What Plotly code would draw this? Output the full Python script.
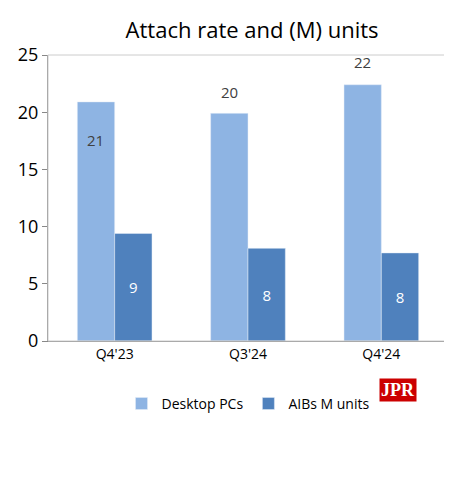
import plotly.graph_objects as go

categories = ["Q4'23", "Q3'24", "Q4'24"]
desktop = [20.9, 19.9, 22.4]
aibs = [9.4, 8.1, 7.7]
desktop_labels = ["21", "20", "22"]
aib_labels = ["9", "8", "8"]
desktop_label_y = [17.6, 21.8, 24.4]

fig = go.Figure()
fig.add_trace(go.Bar(name="Desktop PCs", x=categories, y=desktop, marker_color="#8eb4e3",
                     textposition="none", offsetgroup="a"))
fig.add_trace(go.Bar(name="AIBs M units", x=categories, y=aibs, marker_color="#4f81bd",
                     text=aib_labels, textposition="inside", insidetextanchor="middle",
                     textfont=dict(color="white", size=15), offsetgroup="b"))
anns = [dict(text=t, x=c, y=yv, xref="x", yref="y", xshift=-19, showarrow=False,
             font=dict(size=15, color="#404040"))
        for c, t, yv in zip(categories, desktop_labels, desktop_label_y)]
anns.append(dict(text="<b>JPR</b>", xref="paper", yref="paper", x=0.875, y=-0.17,
                 xanchor="center", yanchor="middle", showarrow=False,
                 font=dict(family="Liberation Serif", size=18, color="white"),
                 bgcolor="#cc0000", borderpad=1))
fig.update_layout(
    width=452, height=491, barmode="group", bargap=0.44, bargroupgap=0,
    paper_bgcolor="white", plot_bgcolor="white",
    font=dict(family="Open Sans, Liberation Sans", color="#000000"),
    title=dict(text="Attach rate and (M) units", x=0.54, xanchor="center", y=0.955,
               yanchor="middle", font=dict(size=22, color="#000")),
    margin=dict(l=40, r=12, t=47, b=158, autoexpand=False),
    yaxis=dict(range=[0, 25], dtick=5, showgrid=False, showline=True, linecolor="#888",
               ticks="outside", ticklen=5, tickcolor="#888", tickfont=dict(size=18), zeroline=False),
    xaxis=dict(showline=True, linecolor="#888", tickfont=dict(size=14)),
    legend=dict(orientation="h", x=0.5, xanchor="center", y=-0.22, yanchor="middle",
                font=dict(size=14)),
    shapes=[dict(type="rect", xref="paper", yref="paper", x0=0, x1=1, y0=0, y1=1,
                 line=dict(color="#cccccc", width=1))],
    annotations=anns,
)
fig.write_html("out.html")
